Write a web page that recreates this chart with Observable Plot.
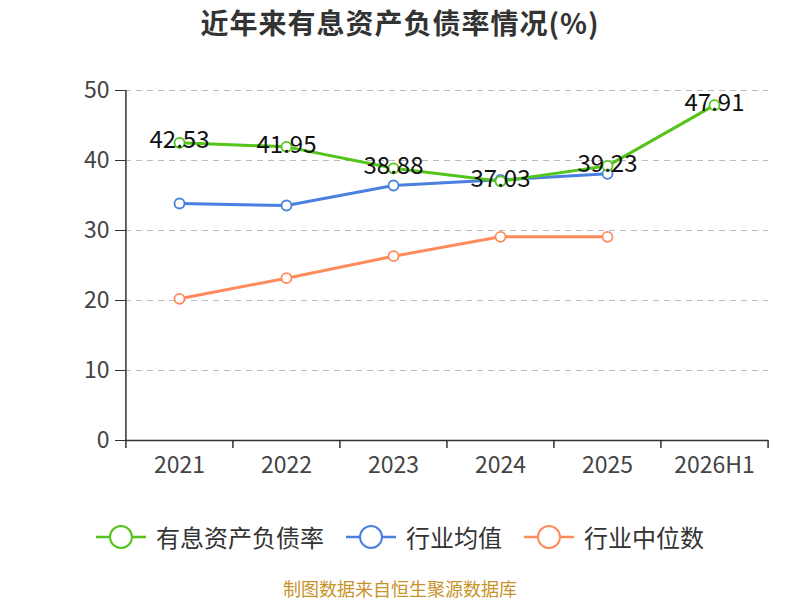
<!DOCTYPE html>
<html><head><meta charset="utf-8">
<script src="https://cdn.jsdelivr.net/npm/d3@7"></script>
<script src="https://cdn.jsdelivr.net/npm/@observablehq/plot@0.6"></script>
<style>
body{margin:0;width:800px;height:600px;position:relative;background:#fff;font-family:"Noto Sans CJK SC","Noto Sans",sans-serif;overflow:hidden}
#title{position:absolute;left:0;width:800px;top:2px;line-height:40px;text-align:center;font-size:28px;letter-spacing:1px;font-weight:bold;color:#333}
#chart{position:absolute;left:0;top:45px}
#unit{position:absolute;left:49px;top:114px;line-height:20px;color:#e00;font-size:17px;transform:rotate(-90deg);transform-origin:center}
#legend{position:absolute;left:0;width:800px;top:519px;display:flex;justify-content:center;gap:22px;font-size:24px;line-height:36px;color:#333}
#legend .it{display:flex;align-items:center;gap:10px}
#caption{position:absolute;left:0;width:800px;top:577px;line-height:22px;text-align:center;font-size:18px;color:#c8922a}
</style></head>
<body>
<div id="title">近年来有息资产负债率情况(%)</div>
<div id="unit">(%)</div>
<div id="chart"></div>
<div id="legend"></div>
<div id="caption">制图数据来自恒生聚源数据库</div>
<script>
const categories = ["2021","2022","2023","2024","2025","2026H1"];
const debtRatio = [42.53, 41.95, 38.88, 37.03, 39.23, 47.91];
const industryMean = [33.86, 33.57, 36.43, 37.24, 38.1];
const industryMedian = [20.24, 23.19, 26.33, 29.1, 29.1];
const yTicks = [0,10,20,30,40,50];
const seriesNames = ["有息资产负债率","行业均值","行业中位数"];
const colors = ["#52c41a","#4a80e0","#ff8a5b"];

const rows = (vals, s) => vals.map((v,i)=>({x:categories[i], y:v, s}));
const d0 = rows(debtRatio, seriesNames[0]);
const d1 = rows(industryMean, seriesNames[1]);
const d2 = rows(industryMedian, seriesNames[2]);

const W = 800, H = 460, mL = 125, mR = 32, mT = 45, mB = 65;
const step = (W - mL - mR) / categories.length;

const fmt = v => v.toFixed(2);
const plot = Plot.plot({
  width: W, height: H,
  marginLeft: mL, marginRight: mR, marginTop: mT, marginBottom: mB,
  style: {fontFamily: '"Noto Sans CJK SC","Noto Sans",sans-serif', fontSize: "23px", background: "#fff", color: "#444"},
  x: {type: "point", domain: categories, padding: 0.5},
  y: {domain: [0, 50]},
  marks: [
    Plot.gridY(yTicks, {stroke: "#bbb", strokeOpacity: 1, strokeDasharray: "6,5", strokeWidth: 1}),
    Plot.axisY(yTicks, {tickSize: 10, tickPadding: 6, fontSize: 23, label: null, stroke: "#333", fill: "#444"}),
    Plot.axisX({tickSize: 0, tickPadding: 16, fontSize: 23, label: null, fill: "#444"}),
    Plot.ruleY([0], {stroke: "#333", strokeWidth: 1.5}),
    Plot.ruleX([categories[0]], {y1: 0, y2: 50, dx: -step/2, stroke: "#333", strokeWidth: 1.5}),
    Plot.ruleX(categories, {y1: 0, y2: 0, insetBottom: -8, dx: -step/2, stroke: "#333", strokeWidth: 1.5}),
    Plot.ruleX([categories[categories.length-1]], {y1: 0, y2: 0, insetBottom: -8, dx: step/2, stroke: "#333", strokeWidth: 1.5}),
    Plot.line(d2, {x: "x", y: "y", stroke: colors[2], strokeWidth: 3}),
    Plot.line(d1, {x: "x", y: "y", stroke: colors[1], strokeWidth: 3}),
    Plot.line(d0, {x: "x", y: "y", stroke: colors[0], strokeWidth: 3}),
    Plot.dot(d2, {x: "x", y: "y", r: 5, fill: "#fff", stroke: colors[2], strokeWidth: 1.8}),
    Plot.dot(d1, {x: "x", y: "y", r: 5, fill: "#fff", stroke: colors[1], strokeWidth: 1.8}),
    Plot.dot(d0, {x: "x", y: "y", r: 5, fill: "#fff", stroke: colors[0], strokeWidth: 1.8}),
    Plot.text(d0, {x: "x", y: "y", text: d => fmt(d.y), dy: -2, fontSize: 24, fill: "#111", textAnchor: "middle", lineAnchor: "middle"})
  ]
});
document.getElementById("chart").appendChild(plot);

const leg = document.getElementById("legend");
seriesNames.forEach((n,i)=>{
  const it = document.createElement("div"); it.className = "it";
  it.innerHTML = `<svg width="50" height="26"><line x1="0" y1="13" x2="50" y2="13" stroke="${colors[i]}" stroke-width="2.5"/><circle cx="25" cy="13" r="11" fill="#fff" stroke="${colors[i]}" stroke-width="2"/></svg><span>${n}</span>`;
  leg.appendChild(it);
});
</script>
</body></html>
